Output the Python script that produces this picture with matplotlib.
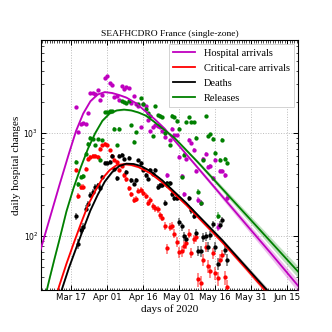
import numpy as np
import matplotlib
matplotlib.use('Agg')
import matplotlib.pyplot as plt
from matplotlib.ticker import FixedLocator, MultipleLocator, LogLocator, NullFormatter

# ---------------- data ----------------
obs_days = list(range(79, 143))  # day of year 2020

hosp = [1800, 1020, 1230, 1240, 1220, 1570, 2450, 2430, 2400, 2600,
        2100, 2350, 3400, 3550, 3050, 2950, 2250, 2300, 2080, 2850,
        2700, 2800, 2750, 1950, 2300, 1930, 1850, 1140, 1900, 1850,
        1330, 1050, 1150, 1200, 1180, 1150, 1050, 920, 390, 850,
        1100, 950, 950, 590, 380, 255, 560, 860, 800, 690,
        430, 224, 209, 565, 630, 470, 480, 363, 550, 123,
        430, 426, 390, 237]

icu = [441, 244, 300, 300, 451, 563, 590, 600, 600, 590,
       705, 760, 790, 760, 680, 600, 545, 525, 436, 480,
       390, 355, 290, 254, 224, 230, 277, 280, 263, 244,
       209, 224, 195, 186, 182, 160, 151, 125, 76, 123,
       125, 106, 88, 70, 71, 81, 85, 106, 69, 93,
       98, 38, 35, 59, 79, 51, 46, 68, 44, 39,
       59, 66, 40, 32]

deaths = [156, 84, 115, 123, 185, 207, 250, 270, 300, 310,
          290, 375, 510, 510, 520, 600, 450, 363, 600, 610,
          560, 420, 575, 347, 324, 347, 543, 513, 436, 390,
          362, 441, 400, 440, 300, 310, 310, 210, 325, 325,
          258, 232, 232, 138, 124, 100, 93, 232, 178, 158,
          107, 72, 71, 98, 100, 79, 102, 130, 79, 54,
          128, 143, 74, 59]

releases = [525, 320, 375, 380, 630, 790, 900, 870, 760, 870,
            545, 850, 1590, 1600, 1620, 1650, 1100, 760, 1100, 2050,
            2000, 1950, 2050, 1200, 820, 1020, 1900, 2200, 1900, 1700,
            1550, 1450, 930, 1850, 1500, 1480, 1420, 1000, 312, 760,
            1480, 1430, 1320, 1100, 375, 610, 1280, 1430, 1280, 1280,
            900, 270, 210, 545, 1450, 930, 975, 880, 640, 158,
            545, 863, 560, 513]

# model curves
hosp_fit_days = [64, 68, 72, 76, 79, 82, 85, 88, 91, 94, 97, 100, 104, 108,
                 112, 116, 120, 130, 140, 150, 160, 172]
hosp_fit = [71, 148, 309, 630, 1050, 1550, 2040, 2370, 2500, 2450, 2340, 2210,
            1950, 1620, 1350, 1100, 850, 453, 242, 129, 69, 32]
hosp_band = [0.03, 0.03, 0.03, 0.03, 0.03, 0.02, 0.02, 0.02, 0.02, 0.02, 0.02,
             0.02, 0.02, 0.02, 0.02, 0.02, 0.03, 0.04, 0.06, 0.08, 0.10, 0.13]

icu_fit_days = [69, 72, 75, 78, 81, 84, 87, 90, 93, 96, 99, 102, 105, 110,
                115, 120, 125, 130, 140, 150, 160, 172]
icu_fit = [19, 33, 54, 85, 132, 200, 275, 363, 437, 490, 500, 490, 468, 407,
           331, 257, 200, 151, 87, 48, 26, 13]
icu_band = [0.03, 0.03, 0.03, 0.03, 0.03, 0.02, 0.02, 0.02, 0.02, 0.02, 0.02,
            0.02, 0.02, 0.02, 0.02, 0.02, 0.03, 0.03, 0.04, 0.05, 0.06, 0.07]

death_fit_days = [70, 73, 76, 79, 82, 85, 88, 91, 94, 97, 100, 103, 106, 110,
                  115, 120, 125, 130, 140, 150, 160, 172]
death_fit = [18, 30, 49, 76, 117, 178, 251, 339, 417, 479, 505, 501, 479, 427,
             347, 269, 209, 158, 91, 50, 27.5, 13.5]
death_band = [0.03, 0.03, 0.03, 0.03, 0.03, 0.02, 0.02, 0.02, 0.02, 0.02, 0.02,
              0.02, 0.02, 0.02, 0.02, 0.02, 0.03, 0.03, 0.04, 0.05, 0.06, 0.07]

rel_fit_days = [66, 68, 70, 72, 75, 78, 81, 84, 87, 90, 93, 96, 99, 102, 105,
                108, 111, 114, 120, 130, 140, 150, 160, 172]
rel_fit = [25, 39, 60, 91, 174, 295, 468, 708, 1000, 1318, 1550, 1660, 1690,
           1660, 1585, 1480, 1318, 1160, 900, 515, 287, 160, 89, 44]
rel_band = [0.03, 0.03, 0.03, 0.03, 0.03, 0.02, 0.02, 0.02, 0.02, 0.02, 0.02,
            0.02, 0.02, 0.02, 0.02, 0.02, 0.02, 0.02, 0.03, 0.04, 0.06, 0.08,
            0.10, 0.13]

tick_days = [77, 92, 107, 122, 137, 152, 167]
tick_labels = ['Mar 17', 'Apr 01', 'Apr 16', 'May 01', 'May 16', 'May 31', 'Jun 15']

series = [
    ('Hospital arrivals', hosp, hosp_fit_days, hosp_fit, hosp_band, 'm'),
    ('Critical-care arrivals', icu, icu_fit_days, icu_fit, icu_band, 'red'),
    ('Deaths', deaths, death_fit_days, death_fit, death_band, 'black'),
    ('Releases', releases, rel_fit_days, rel_fit, rel_band, 'green'),
]

# ---------------- plot ----------------
serif = ['Liberation Serif', 'DejaVu Serif']
fig = plt.figure(figsize=(3.32, 3.32), dpi=100)
ax = fig.add_axes([0.1235, 0.1265, 0.774, 0.753])

for name, obs, fd, fv, fb, col in series:
    obs = np.asarray(obs, float)
    err = np.sqrt(obs)
    ax.errorbar(obs_days, obs, yerr=err, fmt='none', ecolor=col, alpha=0.45,
                elinewidth=1.4, zorder=2)
    ax.plot(obs_days, obs, 'o', color=col, ms=3.1, mew=0, zorder=3)

for name, obs, fd, fv, fb, col in series:
    fv = np.asarray(fv, float)
    fb = np.asarray(fb, float)
    ax.fill_between(fd, fv * (1 - fb), fv * (1 + fb), color=col, alpha=0.25,
                    lw=0, zorder=4)
    ax.plot(fd, fv, '-', color=col, lw=1.3, label=name, zorder=5)

ax.set_yscale('log')
ax.set_ylim(30, 8000)
ax.set_xlim(64.4, 171.5)

ax.xaxis.set_major_locator(FixedLocator(tick_days))
ax.set_xticklabels(tick_labels)
ax.xaxis.set_minor_locator(MultipleLocator(1))
ax.yaxis.set_major_locator(LogLocator(base=10, numticks=10))
ax.yaxis.set_minor_locator(LogLocator(base=10, subs=np.arange(2, 10), numticks=20))
ax.yaxis.set_minor_formatter(NullFormatter())

ax.tick_params(which='both', direction='in', top=True, right=True)
ax.tick_params(which='major', length=3.5, width=0.7)
ax.tick_params(which='minor', length=1.8, width=0.5)
ax.tick_params(axis='x', labelsize=6.2, pad=2)
ax.tick_params(axis='y', labelsize=5.5, pad=2)

ax.grid(True, which='major', linestyle=':', color='#bbbbbb', lw=0.7)
for s in ax.spines.values():
    s.set_linewidth(0.8)

ax.set_title('SEAFHCDRO France (single-zone)', fontsize=6.8, family=serif, pad=3)
ax.set_xlabel('days of 2020', fontsize=8, family=serif, labelpad=2)
ax.set_ylabel('daily hospital changes', fontsize=8, family=serif, labelpad=2)

leg = ax.legend(loc='upper right', prop={'family': serif, 'size': 7.5},
                handlelength=2.1, labelspacing=0.55, borderaxespad=0.4,
                fancybox=False, edgecolor='#cccccc', framealpha=1.0)
leg.get_frame().set_linewidth(0.6)
for h in leg.get_lines():
    h.set_linewidth(1.3)

fig.savefig('out.png', dpi=100)
